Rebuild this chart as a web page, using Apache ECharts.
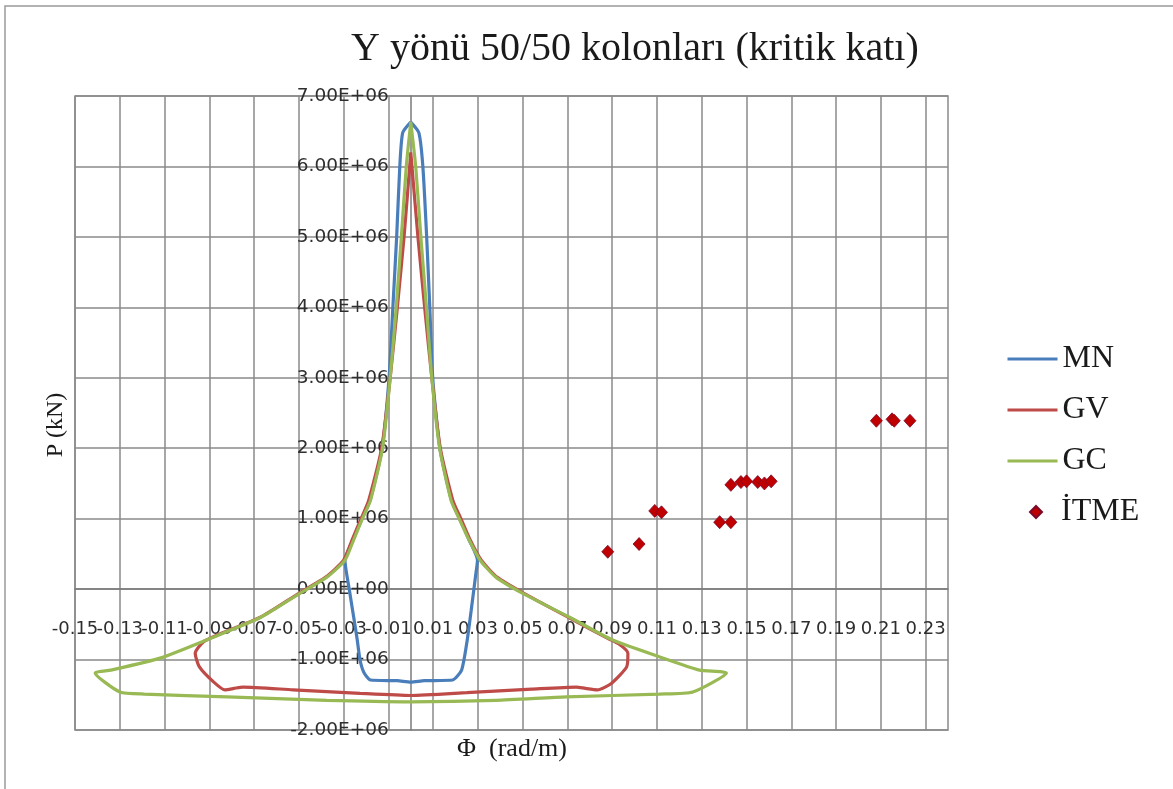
<!DOCTYPE html>
<html>
<head>
<meta charset="utf-8">
<title>Y yönü 50/50 kolonları</title>
<script src="https://cdn.jsdelivr.net/npm/echarts@6/dist/echarts.min.js"></script>
<style>
  html, body { margin: 0; padding: 0; background: #fff; }
  #chart { width: 1173px; height: 789px; }
</style>
</head>
<body>
<div id="chart"></div>
<script>
// axis settings
const xMin = -0.15
const xMax = 0.24
const yMin = -2000000
const yMax = 7000000
const yStep = 1000000

// MN curve [phi, P]
const mn = [
  [0.0000, 6630000], [-0.0036, 6480000], [-0.0049, 6000000], [-0.0063, 5000000],
  [-0.0080, 4000000], [-0.0097, 3000000], [-0.0128, 2000000], [-0.0182, 1260000],
  [-0.0218, 1000000], [-0.0258, 700000], [-0.0294, 410000], [-0.0275, 0],
  [-0.0258, -340000], [-0.0240, -700000], [-0.0227, -1000000], [-0.0210, -1180000],
  [-0.0180, -1290000], [-0.0060, -1300000], [0.0000, -1320000], [0.0060, -1300000],
  [0.0187, -1290000], [0.0227, -1150000], [0.0250, -770000], [0.0270, -300000],
  [0.0290, 200000], [0.0298, 410000], [0.0260, 700000], [0.0218, 1000000],
  [0.0182, 1260000], [0.0130, 2000000], [0.0098, 3000000], [0.0085, 4000000],
  [0.0071, 5000000], [0.0054, 6000000], [0.0036, 6480000], [0.0000, 6630000]
]

// GV curve
const gv = [
  [0.0000, 6200000], [-0.0030, 5000000], [-0.0060, 4000000], [-0.0092, 3000000],
  [-0.0130, 2000000], [-0.0188, 1260000], [-0.0222, 1000000], [-0.0262, 700000],
  [-0.0300, 410000], [-0.0380, 170000], [-0.0500, -60000], [-0.0672, -400000],
  [-0.0870, -660000], [-0.0927, -750000], [-0.0963, -910000], [-0.0945, -1100000],
  [-0.0880, -1320000], [-0.0830, -1430000], [-0.0790, -1410000], [-0.0750, -1390000],
  [-0.0526, -1430000], [-0.0227, -1480000], [0.0000, -1510000], [0.0250, -1470000],
  [0.0540, -1420000], [0.0740, -1390000], [0.0780, -1410000], [0.0834, -1430000],
  [0.0896, -1340000], [0.0965, -1100000], [0.0970, -910000], [0.0930, -780000],
  [0.0880, -700000], [0.0710, -410000], [0.0505, -60000], [0.0385, 170000],
  [0.0315, 410000], [0.0265, 700000], [0.0224, 1000000], [0.0188, 1260000],
  [0.0132, 2000000], [0.0094, 3000000], [0.0062, 4000000], [0.0032, 5000000],
  [0.0000, 6200000]
]

// GC curve
const gc = [
  [0.0000, 6630000], [-0.0020, 6000000], [-0.0042, 5000000], [-0.0065, 4000000],
  [-0.0092, 3000000], [-0.0126, 2000000], [-0.0180, 1260000], [-0.0216, 1000000],
  [-0.0255, 700000], [-0.0294, 410000], [-0.0375, 170000], [-0.0495, -60000],
  [-0.0670, -400000], [-0.0896, -700000], [-0.1120, -980000], [-0.1340, -1150000],
  [-0.1410, -1190000], [-0.1300, -1460000], [-0.1190, -1490000], [-0.0820, -1530000],
  [-0.0375, -1580000], [0.0000, -1600000], [0.0380, -1580000], [0.0695, -1530000],
  [0.1110, -1490000], [0.1260, -1460000], [0.1410, -1190000], [0.1290, -1150000],
  [0.1110, -960000], [0.0900, -720000], [0.0710, -400000], [0.0500, -60000],
  [0.0380, 170000], [0.0310, 410000], [0.0260, 700000], [0.0216, 1000000],
  [0.0180, 1260000], [0.0129, 2000000], [0.0094, 3000000], [0.0070, 4000000],
  [0.0045, 5000000], [0.0022, 6000000], [0.0000, 6630000]
]

// pushover points
const itme = [
  [0.088, 530000], [0.102, 640000], [0.109, 1110000], [0.112, 1090000],
  [0.138, 950000], [0.143, 950000], [0.143, 1480000], [0.1475, 1520000],
  [0.150, 1530000], [0.155, 1520000], [0.158, 1500000], [0.161, 1530000],
  [0.208, 2390000], [0.215, 2410000], [0.216, 2390000], [0.223, 2390000]
]

function sci (v) {
  if (v === 0) return '0.00E+00'
  let e = Math.floor(Math.log10(Math.abs(v)) + 1e-9)
  let m = v / Math.pow(10, e)
  return m.toFixed(2) + 'E' + (e < 0 ? '-' : '+') + String(Math.abs(e)).padStart(2, '0')
}

const gridColor = '#8a8a8a'
const serif = 'Liberation Serif'
const sans = 'DejaVu Sans'

// plot box in px
const gLeft = 75
const gRight = 225
const gTop = 96
const gBottom = 59
const plotW = 1173 - gLeft - gRight
const plotH = 789 - gTop - gBottom
// axes cross at zero (both are value axes, so shift them there by offset)
const yAxisOffset = -(0 - xMin) / (xMax - xMin) * plotW
const xAxisOffset = -(0 - yMin) / (yMax - yMin) * plotH

let myechart = echarts.init(document.getElementById('chart'))
myechart.setOption({
  animation: false,
  title: {
    text: 'Y yönü 50/50 kolonları (kritik katı)',
    left: 351,
    top: 29,
    padding: 0,
    textStyle: { fontFamily: serif, fontWeight: 'normal', fontSize: 40, color: '#1a1a1a' }
  },
  legend: [
    {
      data: ['MN', 'GV', 'GC'],
      orient: 'vertical',
      left: 1006,
      top: 343,
      padding: 0,
      itemWidth: 50,
      itemHeight: 14,
      itemGap: 19,
      itemStyle: { opacity: 0 },
      lineStyle: { width: 3 },
      textStyle: { fontFamily: serif, fontSize: 32, lineHeight: 32, color: '#1a1a1a' }
    },
    {
      data: ['İTME'],
      orient: 'vertical',
      left: 1029,
      top: 496,
      padding: 0,
      itemWidth: 12,
      itemHeight: 12,
      textStyle: { fontFamily: serif, fontSize: 32, lineHeight: 32, color: '#1a1a1a', padding: [0, 0, 0, 14] }
    }
  ],
  grid: {
    left: gLeft,
    right: gRight,
    top: gTop,
    bottom: gBottom,
    containLabel: false,
    outerBoundsMode: 'none',
    show: true,
    borderColor: gridColor,
    borderWidth: 1.5
  },
  xAxis: {
    type: 'value',
    min: xMin,
    max: xMax,
    interval: 0.01,
    position: 'bottom',
    offset: xAxisOffset,
    axisLine: { show: true, onZero: false, lineStyle: { color: '#7a7a7a', width: 1.5 } },
    axisTick: { show: false },
    splitLine: {
      show: true,
      showMinLine: true,
      showMaxLine: true,
      lineStyle: { color: [gridColor, 'rgba(0,0,0,0)'], width: 1.5 }
    },
    axisLabel: {
      showMinLabel: true,
      showMaxLabel: true,
      margin: 31,
      fontFamily: sans,
      fontSize: 18,
      color: '#2e2e2e',
      formatter: function (v) {
        let k = Math.round(v * 100)
        if (Math.abs(k % 2) !== 1) return ''
        return (k / 100).toFixed(2)
      }
    }
  },
  yAxis: {
    type: 'value',
    min: yMin,
    max: yMax,
    interval: yStep,
    position: 'left',
    offset: yAxisOffset,
    axisLine: { show: true, onZero: false, lineStyle: { color: '#7a7a7a', width: 1.5 } },
    axisTick: { show: false },
    splitLine: { show: true, lineStyle: { color: gridColor, width: 1.5 } },
    axisLabel: {
      showMinLabel: true,
      showMaxLabel: true,
      margin: 22,
      fontFamily: sans,
      fontSize: 18.5,
      color: '#2e2e2e',
      formatter: sci
    }
  },
  graphic: [
    {
      type: 'rect',
      shape: { x: 5, y: 6, width: 1200, height: 820 },
      style: { fill: 'none', stroke: '#9a9a9a', lineWidth: 1.5 },
      silent: true
    },
    {
      type: 'text',
      x: 56,
      y: 425,
      rotation: Math.PI / 2,
      style: { text: 'P (kN)', fontFamily: serif, fontSize: 24, fill: '#1a1a1a', align: 'center', verticalAlign: 'middle' }
    },
    {
      type: 'text',
      x: 512,
      y: 749,
      style: { text: 'Φ  (rad/m)', fontFamily: serif, fontSize: 26, fill: '#1a1a1a', align: 'center', verticalAlign: 'middle' }
    }
  ],
  series: [
    {
      name: 'MN', type: 'line', data: mn, symbol: 'none', smooth: 0.2,
      lineStyle: { color: '#4A7EBB', width: 3.2 }, itemStyle: { color: '#4A7EBB' }
    },
    {
      name: 'GV', type: 'line', data: gv, symbol: 'none', smooth: 0.2,
      lineStyle: { color: '#BE4B48', width: 3.2 }, itemStyle: { color: '#BE4B48' }
    },
    {
      name: 'GC', type: 'line', data: gc, symbol: 'none', smooth: 0.2,
      lineStyle: { color: '#98B954', width: 3.2 }, itemStyle: { color: '#98B954' }
    },
    {
      name: 'İTME', type: 'scatter', data: itme, symbol: 'diamond', symbolSize: [12, 13],
      itemStyle: { color: '#C00000', borderColor: '#7a0a2a', borderWidth: 0.8, opacity: 1 }
    }
  ]
})
</script>
</body>
</html>
